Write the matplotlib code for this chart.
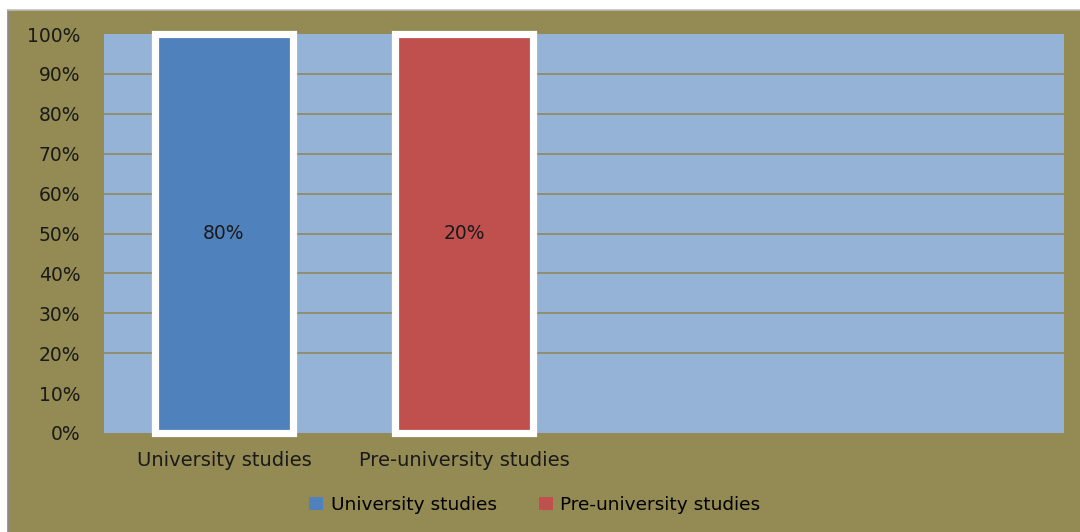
import numpy as np
import matplotlib.pyplot as plt
from matplotlib.patches import Rectangle, Patch
from matplotlib.lines import Line2D
import matplotlib.patheffects as pe

categories = ["University studies", "Pre-university studies", "", ""]
series_names = ["University studies", "Pre-university studies"]
series_values = [80, 20]
series_colors = ["#4F81BD", "#C0504D"]
ytick_values = np.arange(0, 101, 10)

olive = "#948A54"
plot_bg = "#95B3D7"
grid_color = "#8E8A60"

plt.rcParams['font.family'] = ['DejaVu Sans']

W, H = 1080, 532
fig = plt.figure(figsize=(W / 100, H / 100), dpi=100, facecolor="white")

# chart area with a thin grey frame on the left and top
fig.patches.append(Rectangle((8 / W, 0), 1 - 8 / W, (H - 10) / H, transform=fig.transFigure,
                             facecolor=olive, edgecolor="none", zorder=-10))
fig.add_artist(Line2D([7.5 / W, 7.5 / W], [0, (H - 9.5) / H], color="#8a8a8a", lw=1.2, zorder=-5))
fig.add_artist(Line2D([7.5 / W, 1], [(H - 9.5) / H, (H - 9.5) / H], color="#bdbdbd", lw=1.2, zorder=-5))

ax = fig.add_axes([104 / W, (H - 433) / H, 960 / W, (433 - 34) / H])
ax.set_facecolor(plot_bg)
for s in ax.spines.values():
    s.set_visible(False)

x = np.arange(len(categories))

# 100% stacked columns: each series sits in its own category
data = np.zeros((len(series_values), len(categories)))
for i, v in enumerate(series_values):
    data[i, i] = v
totals = data.sum(axis=0)
totals[totals == 0] = 1
shares = data / totals * 100

bottom = np.zeros(len(categories))
for i, name in enumerate(series_names):
    keep = shares[i] > 0
    bars = ax.bar(x[keep], shares[i][keep], 0.575, bottom=bottom[keep], color=series_colors[i],
                  edgecolor="white", linewidth=5.2, zorder=3, clip_on=False)
    for b in bars:
        b.set_path_effects([pe.SimplePatchShadow(offset=(2, -2), alpha=0.25), pe.Normal()])
    bottom += shares[i]

for i, v in enumerate(series_values):
    ax.text(x[i], 50, f"{v}%", ha="center", va="center", fontsize=13.5, color="#1a1a1a", zorder=5)

for y in ytick_values:
    if 20 <= y <= 90:
        ax.axhline(y, color=grid_color, lw=1.2, zorder=1)

ax.set_xlim(-0.5, len(categories) - 0.5)
ax.set_ylim(0, 100)
ax.set_yticks(ytick_values)
ax.set_yticklabels([f"{v}%" for v in ytick_values])
ax.set_xticks(x)
ax.set_xticklabels(categories)
ax.tick_params(axis="y", length=0, pad=17, labelsize=13.5, labelcolor="#1a1a1a")
ax.tick_params(axis="x", length=0, pad=13, labelsize=14, labelcolor="#1a1a1a")

handles = [Patch(facecolor=c, edgecolor="none") for c in series_colors]
fig.legend(handles, series_names, loc="center", bbox_to_anchor=(535 / W, 1 - 505 / H),
           ncol=2, frameon=False, fontsize=13.3, handlelength=0.75, handleheight=0.75,
           handletextpad=0.4, columnspacing=2.3)

fig.savefig("out.png", dpi=100, facecolor=fig.get_facecolor())
